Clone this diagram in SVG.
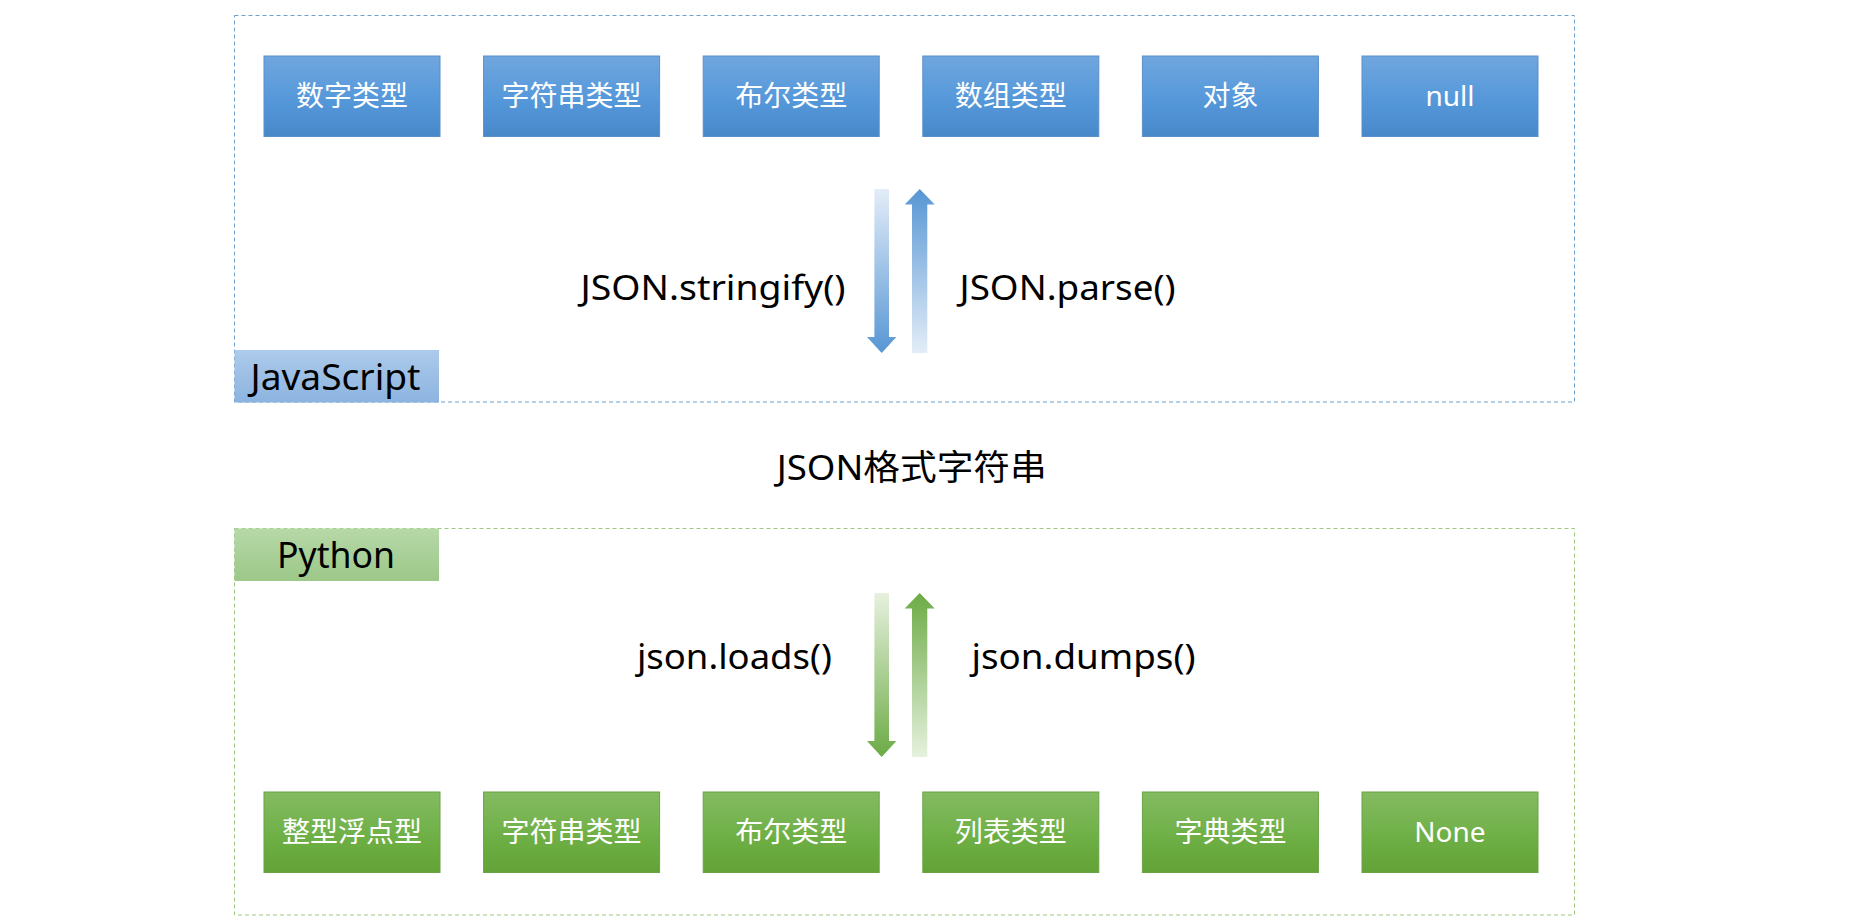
<svg xmlns="http://www.w3.org/2000/svg" width="1861" height="922" viewBox="0 0 1861 922">
<defs>
<linearGradient id="gBlue" x1="0" y1="0" x2="0" y2="1"><stop offset="0" stop-color="#70a6de"/><stop offset="0.55" stop-color="#5598da"/><stop offset="1" stop-color="#4788c9"/></linearGradient>
<linearGradient id="gGreen" x1="0" y1="0" x2="0" y2="1"><stop offset="0" stop-color="#84bb62"/><stop offset="0.55" stop-color="#6fb046"/><stop offset="1" stop-color="#62a236"/></linearGradient>
<linearGradient id="gJs" x1="0" y1="0" x2="0" y2="1"><stop offset="0" stop-color="#adcbec"/><stop offset="1" stop-color="#8cb3df"/></linearGradient>
<linearGradient id="gPy" x1="0" y1="0" x2="0" y2="1"><stop offset="0" stop-color="#b7d8a8"/><stop offset="1" stop-color="#9cc888"/></linearGradient>
<linearGradient id="aBlueDown" x1="0" y1="0" x2="0" y2="1"><stop offset="0" stop-color="#e3edf8"/><stop offset="1" stop-color="#5796d4"/></linearGradient>
<linearGradient id="aBlueUp" x1="0" y1="0" x2="0" y2="1"><stop offset="0" stop-color="#5796d4"/><stop offset="1" stop-color="#e3edf8"/></linearGradient>
<linearGradient id="aGreenDown" x1="0" y1="0" x2="0" y2="1"><stop offset="0" stop-color="#e6f1de"/><stop offset="1" stop-color="#6cab45"/></linearGradient>
<linearGradient id="aGreenUp" x1="0" y1="0" x2="0" y2="1"><stop offset="0" stop-color="#6cab45"/><stop offset="1" stop-color="#e6f1de"/></linearGradient>
</defs>
<style>
.frameB{fill:none;stroke:#6f9fcb;stroke-width:1;stroke-dasharray:4 3}
.frameG{fill:none;stroke:#9dc67f;stroke-width:1;stroke-dasharray:4 3}
.nb{fill:url(#gBlue);stroke:#5a8fc8;stroke-width:1}
.ng{fill:url(#gGreen);stroke:#68a443;stroke-width:1}
.nt{font-family:"Noto Sans","Noto Sans CJK SC",sans-serif;font-size:28px;fill:#ffffff;text-anchor:middle}
.lbl{font-family:"Noto Sans","Noto Sans CJK SC",sans-serif;font-size:35px;fill:#000000}
.tag{font-family:"Noto Sans","Noto Sans CJK SC",sans-serif;font-size:37px;fill:#000000}
</style>
<rect width="1861" height="922" fill="#ffffff"/>

<g id="js-frame">
<rect class="frameB" x="234.5" y="15.5" width="1340" height="386.5"/>
<rect x="234.5" y="350" width="204.5" height="52.5" fill="url(#gJs)"/>
<text class="tag" x="250.5" y="390" textLength="170" lengthAdjust="spacingAndGlyphs">JavaScript</text>
</g>

<g id="py-frame">
<rect class="frameG" x="234.5" y="528.5" width="1340" height="386.5"/>
<rect x="234.5" y="528.5" width="204.5" height="52.5" fill="url(#gPy)"/>
<text class="tag" x="277" y="568" textLength="118" lengthAdjust="spacingAndGlyphs">Python</text>
</g>

<g id="js-number"><rect class="nb" x="264" y="56" width="176" height="80.5"/><text class="nt" x="352" y="106">数字类型</text></g>
<g id="js-string"><rect class="nb" x="483.6" y="56" width="176" height="80.5"/><text class="nt" x="571.6" y="106">字符串类型</text></g>
<g id="js-bool"><rect class="nb" x="703.2" y="56" width="176" height="80.5"/><text class="nt" x="791.2" y="106">布尔类型</text></g>
<g id="js-array"><rect class="nb" x="922.8" y="56" width="176" height="80.5"/><text class="nt" x="1010.8" y="106">数组类型</text></g>
<g id="js-object"><rect class="nb" x="1142.4" y="56" width="176" height="80.5"/><text class="nt" x="1230.4" y="106">对象</text></g>
<g id="js-null"><rect class="nb" x="1362" y="56" width="176" height="80.5"/><text class="nt" x="1450" y="106">null</text></g>

<g id="py-int"><rect class="ng" x="264" y="792" width="176" height="80.5"/><text class="nt" x="352" y="842">整型浮点型</text></g>
<g id="py-str"><rect class="ng" x="483.6" y="792" width="176" height="80.5"/><text class="nt" x="571.6" y="842">字符串类型</text></g>
<g id="py-bool"><rect class="ng" x="703.2" y="792" width="176" height="80.5"/><text class="nt" x="791.2" y="842">布尔类型</text></g>
<g id="py-list"><rect class="ng" x="922.8" y="792" width="176" height="80.5"/><text class="nt" x="1010.8" y="842">列表类型</text></g>
<g id="py-dict"><rect class="ng" x="1142.4" y="792" width="176" height="80.5"/><text class="nt" x="1230.4" y="842">字典类型</text></g>
<g id="py-none"><rect class="ng" x="1362" y="792" width="176" height="80.5"/><text class="nt" x="1450" y="842">None</text></g>

<g id="json-string">
<text class="lbl" x="776.7" y="480" font-size="36" textLength="270" lengthAdjust="spacingAndGlyphs">JSON格式字符串</text>
</g>

<g id="connectors">
<path d="M874.4,189 H889 V337 H896.4 L881.7,353 L867,337 H874.4 Z" fill="url(#aBlueDown)"/>
<path d="M919.7,189 L934.7,204.5 H927.3 V353 H912 V204.5 H904.7 Z" fill="url(#aBlueUp)"/>
<text class="lbl" x="580.6" y="300" textLength="265" lengthAdjust="spacingAndGlyphs">JSON.stringify()</text>
<text class="lbl" x="959.6" y="300" textLength="216" lengthAdjust="spacingAndGlyphs">JSON.parse()</text>
<path d="M874.4,593 H889 V741 H896.4 L881.7,757 L867,741 H874.4 Z" fill="url(#aGreenDown)"/>
<path d="M919.7,593 L934.7,608.5 H927.3 V757 H912 V608.5 H904.7 Z" fill="url(#aGreenUp)"/>
<text class="lbl" x="636.9" y="669" textLength="195" lengthAdjust="spacingAndGlyphs">json.loads()</text>
<text class="lbl" x="971.5" y="669" textLength="224" lengthAdjust="spacingAndGlyphs">json.dumps()</text>
</g>
</svg>
